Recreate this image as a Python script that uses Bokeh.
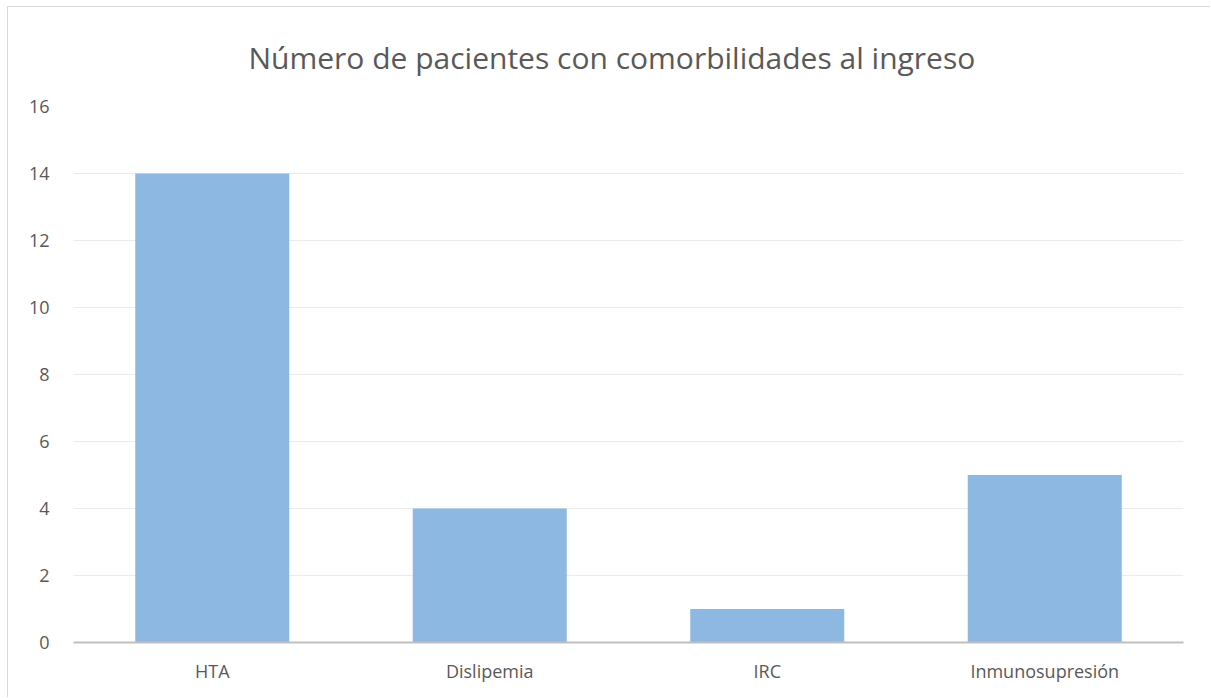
from bokeh.plotting import figure
from bokeh.models import FactorRange, Range1d, SingleIntervalTicker, ColumnDataSource
from bokeh.embed import file_html
from bokeh.resources import INLINE

categories = ["HTA", "Dislipemia", "IRC", "Inmunosupresión"]
values = [14, 4, 1, 5]
title_text = "Número de pacientes con comorbilidades al ingreso"

FONT = "Open Sans"
TXT = "#595959"

src = ColumnDataSource(dict(cat=categories, val=values))

p = figure(
    x_range=FactorRange(*categories, range_padding=0),
    y_range=Range1d(0, 16),
    width=1203, height=691,
    output_backend="svg", toolbar_location=None,
    min_border_left=65, min_border_right=28,
    min_border_top=99, min_border_bottom=56,
    styles={
        "margin-left": "7px", "margin-top": "6px",
        "border-style": "solid none none solid",
        "border-width": "1px 0px 0px 1px",
        "border-color": "#d9d9d9",
    },
)

p.vbar(x="cat", top="val", width=0.555, source=src,
       fill_color="#8db8e1", line_color=None)

p.title.text = title_text
p.title.align = "left"
p.title.vertical_align = "top"
p.title.text_font = FONT
p.title.text_font_size = "30px"
p.title.text_font_style = "normal"
p.title.text_color = TXT
p.title.offset = 175
p.title.standoff = 54

p.outline_line_color = None
p.background_fill_color = "white"
p.border_fill_color = "white"

p.xgrid.grid_line_color = None
p.ygrid.grid_line_color = "#ebebeb"
p.ygrid.grid_line_width = 1

p.yaxis.ticker = SingleIntervalTicker(interval=2)
p.yaxis.axis_line_color = None
p.yaxis.major_tick_line_color = None
p.yaxis.minor_tick_line_color = None
p.yaxis.major_label_standoff = 18
p.yaxis.major_label_text_font = FONT
p.yaxis.major_label_text_font_size = "18px"
p.yaxis.major_label_text_color = TXT

p.xaxis.axis_line_color = "#bfbfbf"
p.xaxis.axis_line_width = 2
p.xaxis.major_tick_line_color = None
p.xaxis.minor_tick_line_color = None
p.xaxis.major_label_standoff = 10
p.xaxis.major_label_text_font = FONT
p.xaxis.major_label_text_font_size = "18px"
p.xaxis.major_label_text_color = TXT

open("out.html", "w").write(file_html(p, INLINE))
